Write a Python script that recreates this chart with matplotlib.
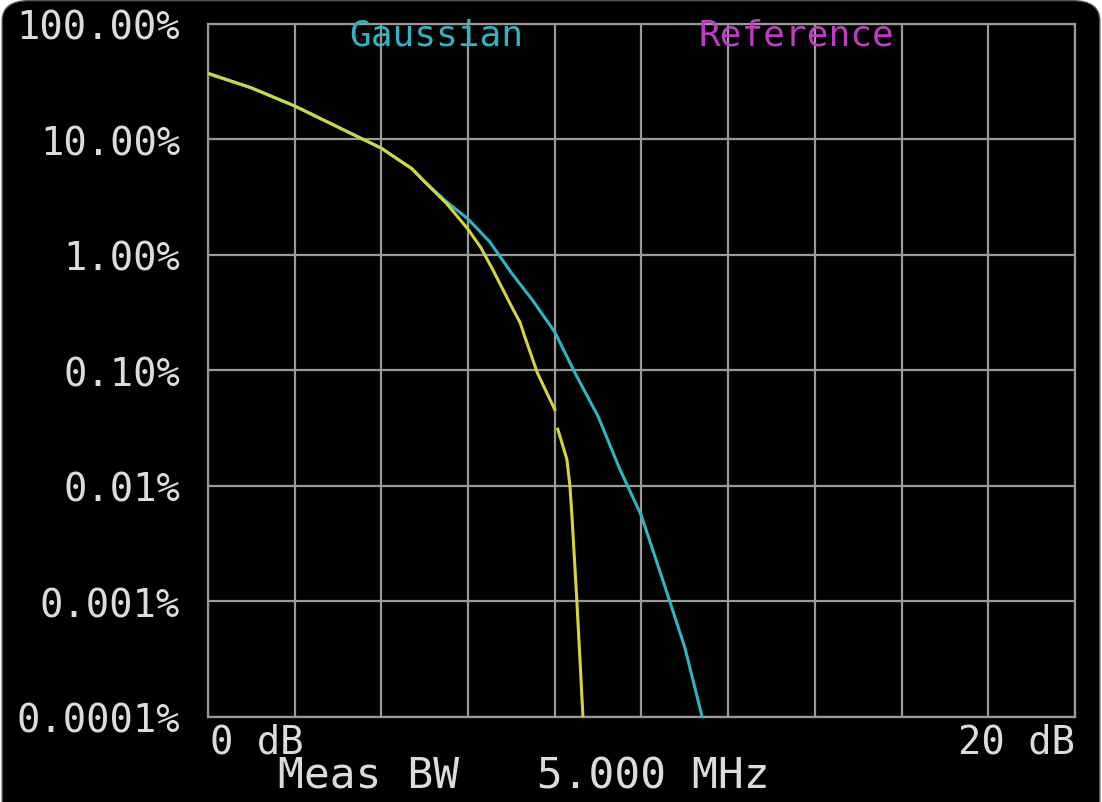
import numpy as np
import matplotlib
matplotlib.use("Agg")
import matplotlib.pyplot as plt
from matplotlib.patches import FancyBboxPatch

# CCDF trace values (dB above average, probability in %)
gauss_db = [0.0, 1.0, 2.0, 3.0, 4.0, 4.7, 5.0, 5.5, 6.0, 6.5, 7.0, 7.5, 8.0, 8.5,
            9.0, 9.5, 10.0, 10.5, 11.0, 11.4]
gauss_pct = [37.0, 28.0, 19.5, 12.8, 8.4, 5.6, 4.3, 2.9, 2.05, 1.3, 0.7, 0.4, 0.215,
             0.09, 0.040, 0.014, 0.0055, 0.0015, 0.0004, 0.0001]

meas_db = [0.0, 1.0, 2.0, 3.0, 4.0, 4.7, 5.0, 5.5, 6.0, 6.3, 6.6, 7.0, 7.2, 7.3, 7.6,
           7.9, 8.0, 8.04, 8.07, 8.28, 8.35, 8.40, 8.51, 8.58, 8.65]
meas_pct = [37.5, 28.0, 19.5, 12.8, 8.4, 5.6, 4.3, 2.8, 1.67, 1.15, 0.71, 0.36, 0.26,
            0.20, 0.095, 0.055, 0.046, np.nan, 0.031, 0.017, 0.010, 0.0052, 0.001,
            0.00032, 0.0001]

y_ticks = [100, 10, 1, 0.1, 0.01, 0.001, 0.0001]
y_labels = ["100.00%", "10.00%", "1.00%", "0.10%", "0.01%", "0.001%", "0.0001%"]

fg = "#dcdcdc"
grid_c = "#9a9a9a"
cyan = "#2fb4c4"
yellow = "#d6d43c"
magenta = "#c03cc4"
mono = "DejaVu Sans Mono"

fig = plt.figure(figsize=(11.02, 8.03), dpi=100)
fig.patch.set_facecolor("white")
bg = FancyBboxPatch((0.002, -0.05), 0.996, 1.048,
                    boxstyle="round,pad=0,rounding_size=0.025",
                    transform=fig.transFigure, facecolor="black",
                    edgecolor="#555555", linewidth=1.0, zorder=-10)
fig.patches.append(bg)

ax = fig.add_axes([0.1887, 0.1059, 0.7868, 0.863])
ax.set_facecolor("black")
ax.set_yscale("log")
ax.set_xlim(0, 20)
ax.set_ylim(0.0001, 100)

ax.set_xticks(np.arange(0, 21, 2))
ax.set_xticklabels([])
ax.set_yticks(y_ticks)
ax.set_yticklabels(y_labels, fontsize=28, family=mono, color=fg)
ax.yaxis.set_minor_locator(matplotlib.ticker.NullLocator())
ax.tick_params(axis="both", length=0, pad=20)
ax.grid(True, color=grid_c, linewidth=1.6)
for s in ax.spines.values():
    s.set_color(grid_c)
    s.set_linewidth(1.6)

ax.plot(gauss_db, gauss_pct, color=cyan, linewidth=2.2, zorder=3)
ax.plot(meas_db, meas_pct, color=yellow, linewidth=2.2, zorder=4)

ax.text(0.263, 0.985, "Gaussian", transform=ax.transAxes, ha="center", va="center",
        fontsize=26, family=mono, color=cyan)
ax.text(0.679, 0.985, "Reference", transform=ax.transAxes, ha="center", va="center",
        fontsize=26, family=mono, color=magenta)

ax.text(0.002, -0.008, "0 dB", transform=ax.transAxes, ha="left", va="top",
        fontsize=28, family=mono, color=fg)
ax.text(1.0, -0.008, "20 dB", transform=ax.transAxes, ha="right", va="top",
        fontsize=28, family=mono, color=fg)
fig.text(0.252, 0.0175, "Meas BW   5.000 MHz", ha="left", va="baseline",
         fontsize=31, family=mono, color=fg)

fig.savefig("out.png", dpi=100, facecolor=fig.get_facecolor())
